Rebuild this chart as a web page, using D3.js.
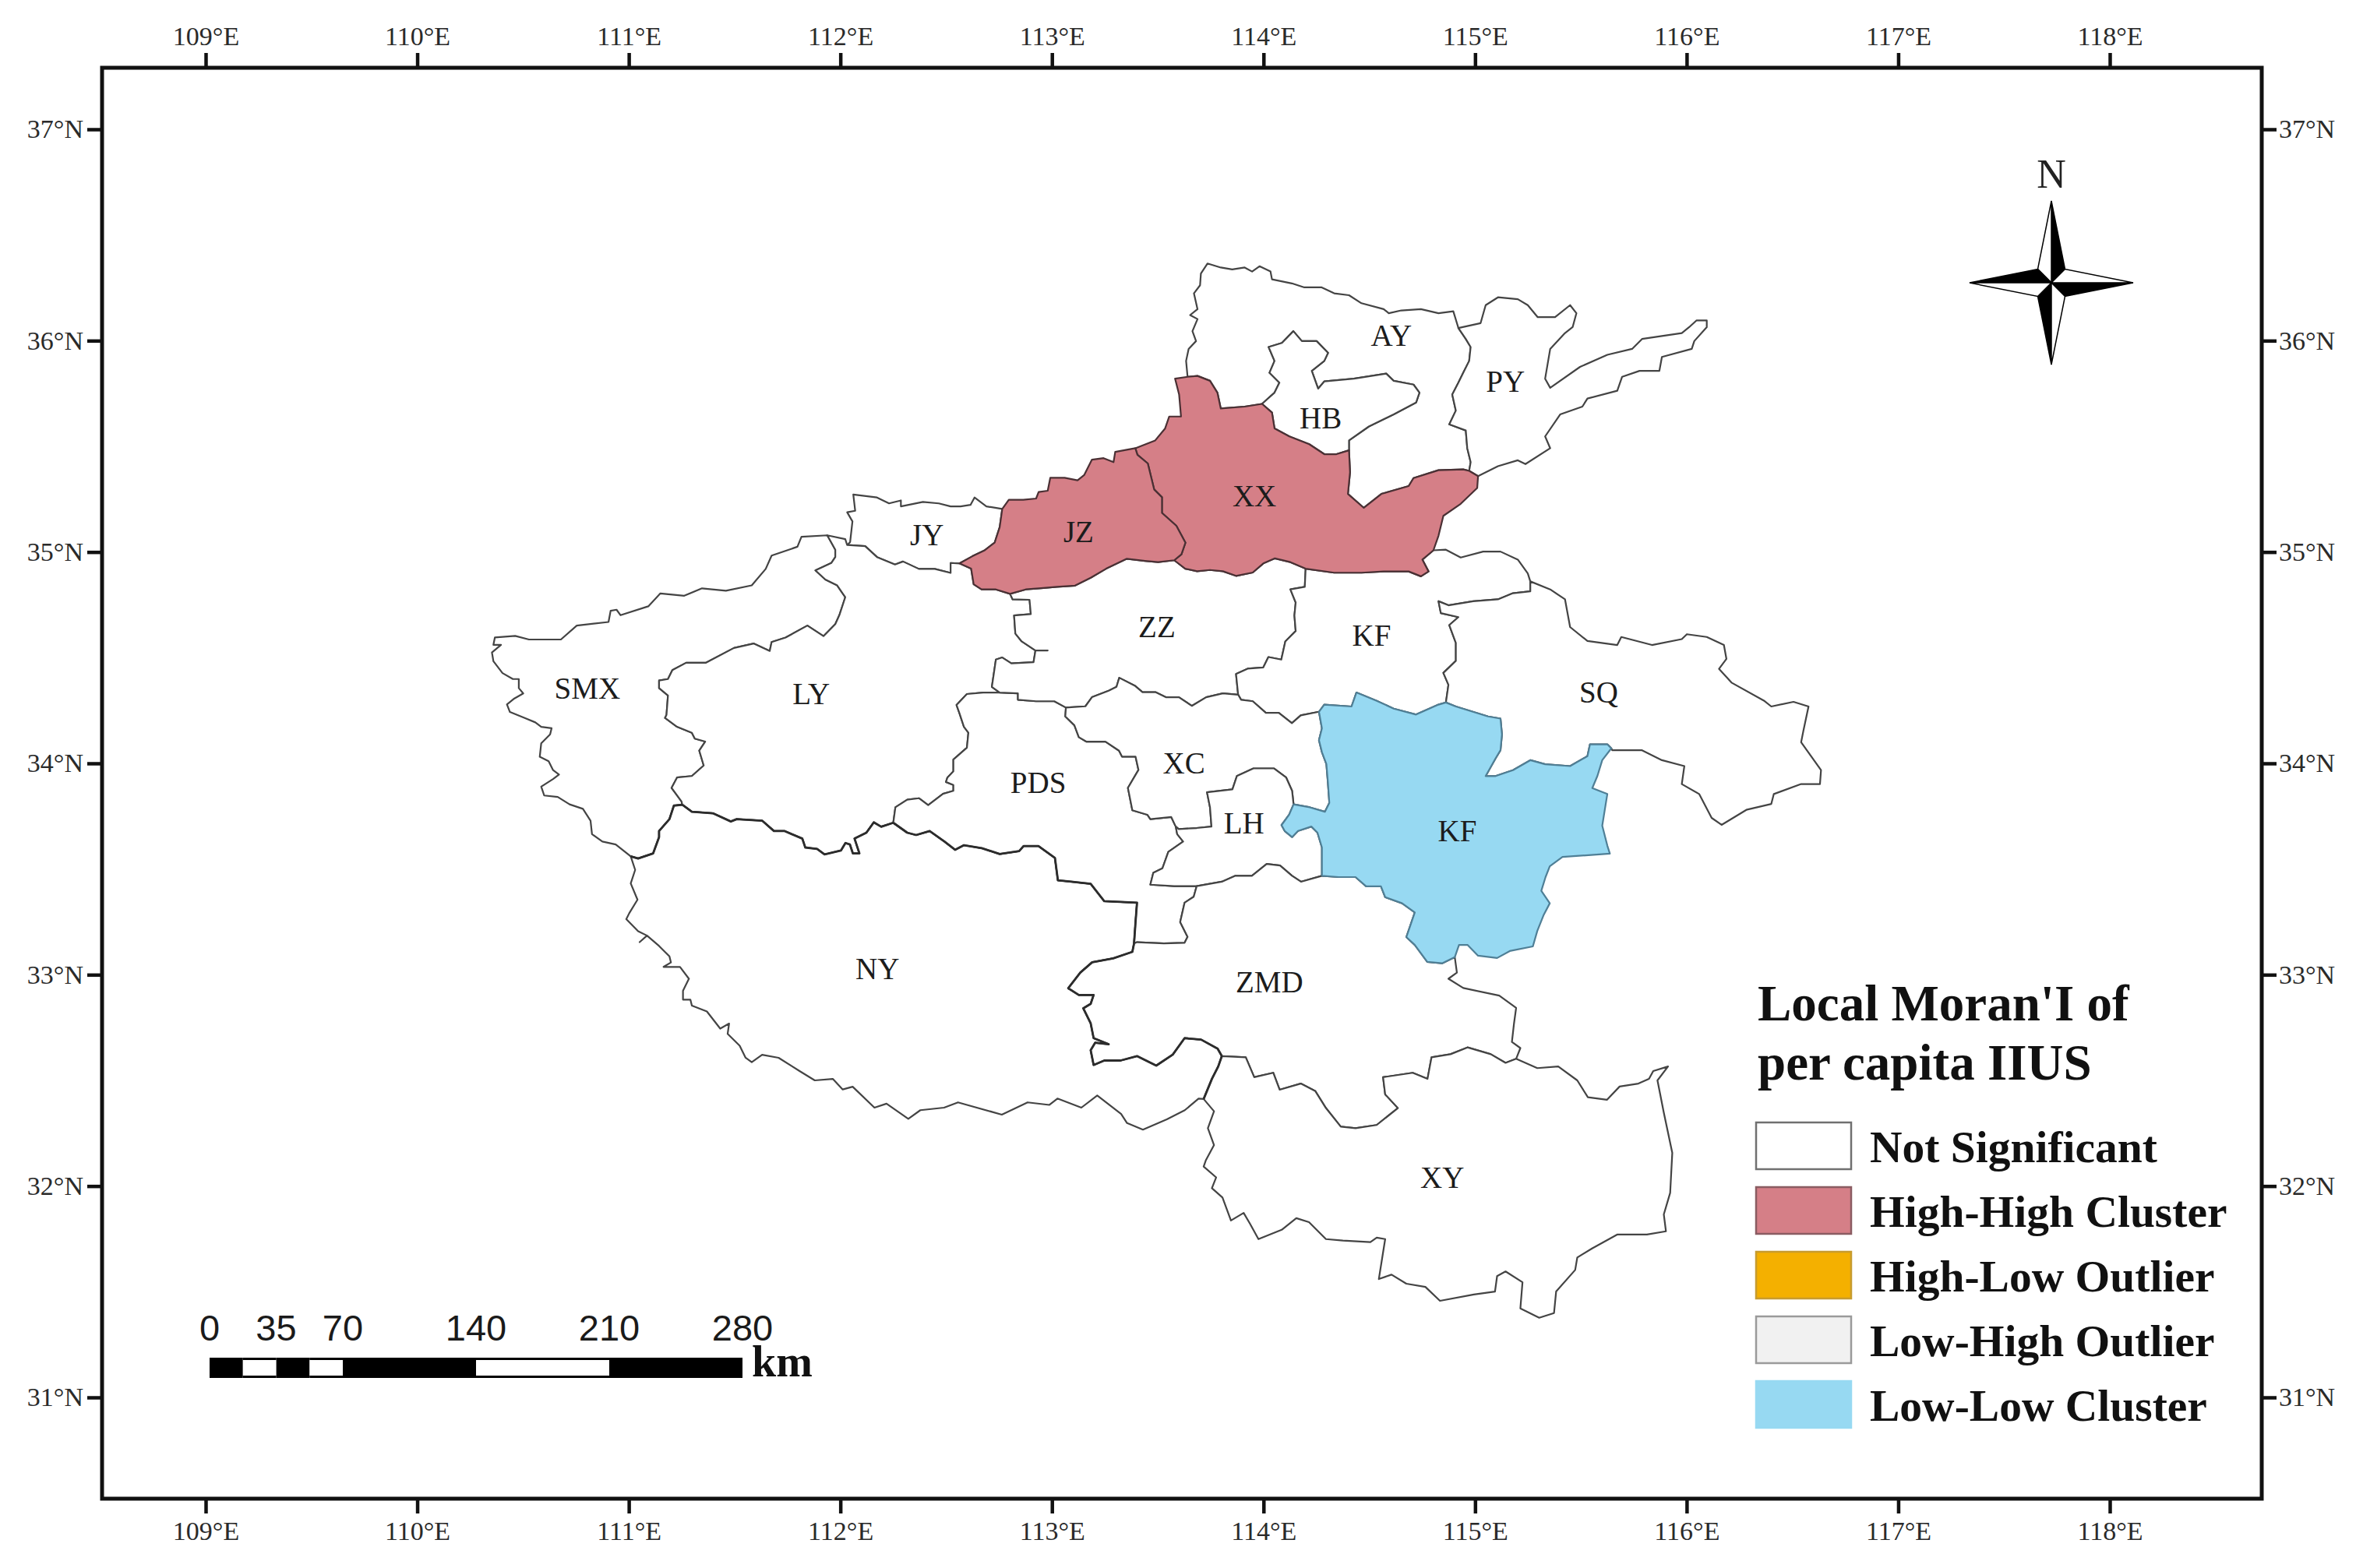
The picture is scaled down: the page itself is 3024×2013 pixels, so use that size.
<!DOCTYPE html>
<html>
<head>
<meta charset="utf-8">
<script src="https://cdn.jsdelivr.net/npm/d3@7"></script>
<style>
  body { margin: 0; background: #fff; }
  text { font-family: "Liberation Serif", serif; }
</style>
</head>
<body>
<div id="chart"></div>
<script>
'use strict';

// boundary arcs, [lon, lat], shared between neighbouring regions
var ayNorth = [[113.641,35.829],[113.634,35.904],[113.646,35.961],[113.681,35.998],[113.664,36.045],[113.688,36.102],[113.653,36.121],[113.688,36.149],[113.671,36.224],[113.700,36.262],[113.704,36.318],[113.735,36.365],[113.798,36.346],[113.852,36.337],[113.911,36.346],[113.946,36.327],[113.981,36.352],[114.033,36.327],[114.040,36.290],[114.134,36.271],[114.193,36.252],[114.275,36.252],[114.334,36.224],[114.404,36.215],[114.463,36.177],[114.568,36.149],[114.592,36.130],[114.651,36.143],[114.744,36.149],[114.827,36.130],[114.897,36.139],[114.921,36.060]];
var ayPy = [[114.921,36.060],[114.956,36.008],[114.979,35.970],[114.972,35.904],[114.944,35.848],[114.921,35.801],[114.892,35.745],[114.909,35.669],[114.878,35.604],[114.956,35.575],[114.963,35.491],[114.979,35.425],[114.972,35.384]];
var ayXxSouth = [[114.404,35.481],[114.409,35.378],[114.399,35.275],[114.474,35.209],[114.557,35.275],[114.686,35.312],[114.709,35.350],[114.827,35.387],[114.944,35.391],[114.972,35.384]];
var hbNorth = [[113.993,35.701],[114.052,35.754],[114.075,35.801],[114.028,35.848],[114.052,35.904],[114.024,35.970],[114.087,35.989],[114.141,36.045],[114.181,35.998],[114.251,35.998],[114.305,35.942],[114.287,35.904],[114.228,35.857],[114.258,35.773],[114.287,35.807],[114.427,35.820],[114.580,35.844],[114.615,35.810],[114.709,35.792],[114.737,35.754],[114.721,35.707],[114.615,35.651],[114.498,35.594],[114.404,35.528],[114.404,35.481]];
var hbXx = [[113.993,35.701],[114.040,35.660],[114.052,35.585],[114.122,35.547],[114.216,35.510],[114.287,35.463],[114.345,35.463],[114.404,35.481]];
var ayXxWest = [[113.641,35.829],[113.688,35.833],[113.747,35.810],[113.782,35.754],[113.798,35.679],[113.911,35.688],[113.993,35.701]];
var xxNorthWest = [[113.641,35.829],[113.582,35.820],[113.601,35.745],[113.610,35.641],[113.554,35.641],[113.535,35.585],[113.488,35.528],[113.394,35.491]];
var pyXx = [[114.972,35.384],[115.014,35.359]];
var xxEast = [[115.014,35.359],[115.010,35.303],[114.932,35.228],[114.850,35.171],[114.827,35.077],[114.803,35.008]];
var xxKf = [[114.803,35.008],[114.751,34.964],[114.780,34.908],[114.744,34.885],[114.686,34.908],[114.568,34.908],[114.463,34.902],[114.334,34.902],[114.199,34.921]];
var xxZz = [[114.199,34.921],[114.127,34.952],[114.054,34.970],[113.999,34.946],[113.949,34.903],[113.870,34.887],[113.808,34.909],[113.747,34.915],[113.686,34.909],[113.630,34.921],[113.578,34.961]];
var jzXx = [[113.394,35.491],[113.404,35.460],[113.453,35.419],[113.483,35.296],[113.520,35.259],[113.520,35.185],[113.588,35.124],[113.631,35.044],[113.612,34.989],[113.578,34.961]];
var jzNorth = [[113.394,35.491],[113.299,35.474],[113.291,35.425],[113.244,35.444],[113.189,35.437],[113.152,35.364],[113.121,35.339],[113.060,35.351],[112.992,35.351],[112.980,35.290],[112.937,35.284],[112.925,35.253],[112.864,35.247],[112.796,35.247],[112.765,35.204]];
var jzJy = [[112.765,35.204],[112.753,35.118],[112.729,35.044],[112.680,35.007],[112.624,34.980],[112.563,34.946]];
var jzSouth = [[112.563,34.946],[112.618,34.921],[112.630,34.847],[112.667,34.823],[112.735,34.823],[112.802,34.802]];
var jzZz = [[112.802,34.802],[112.876,34.823],[112.949,34.829],[113.023,34.835],[113.109,34.841],[113.183,34.878],[113.256,34.921],[113.354,34.968],[113.440,34.958],[113.502,34.952],[113.578,34.961]];
var jyNorth = [[112.765,35.204],[112.690,35.216],[112.634,35.258],[112.615,35.223],[112.568,35.216],[112.521,35.216],[112.465,35.230],[112.390,35.237],[112.286,35.216],[112.286,35.244],[112.230,35.230],[112.173,35.258],[112.061,35.272],[112.070,35.195],[112.032,35.188],[112.057,35.145],[112.046,35.047],[112.032,35.033]];
var jyLy = [[112.032,35.033],[112.117,35.028],[112.173,34.976],[112.258,34.941],[112.296,34.955],[112.371,34.920],[112.446,34.920],[112.521,34.901],[112.521,34.948],[112.563,34.946]];
var lyTip = [[112.032,35.033],[112.023,35.061],[111.938,35.079]];
var smxNorth = [[111.938,35.079],[111.816,35.072],[111.797,35.025],[111.675,34.983],[111.647,34.920],[111.581,34.842],[111.459,34.817],[111.346,34.828],[111.262,34.793],[111.149,34.804],[111.092,34.743],[110.961,34.701],[110.942,34.727],[110.914,34.722],[110.904,34.669],[110.754,34.652],[110.679,34.586],[110.528,34.586],[110.463,34.603],[110.367,34.596],[110.360,34.561],[110.396,34.561],[110.353,34.525],[110.360,34.483],[110.403,34.427],[110.452,34.399],[110.480,34.399],[110.480,34.356],[110.501,34.331],[110.459,34.307],[110.424,34.279],[110.438,34.243],[110.508,34.215],[110.558,34.194],[110.586,34.173],[110.635,34.166],[110.628,34.137],[110.586,34.095],[110.579,34.031],[110.621,34.010],[110.642,33.968],[110.670,33.947],[110.642,33.926],[110.586,33.890],[110.600,33.848],[110.664,33.841],[110.720,33.806],[110.783,33.785],[110.819,33.729],[110.826,33.665],[110.875,33.630],[110.938,33.616],[111.009,33.560]];
var smxLy = [[111.938,35.079],[111.952,35.054],[111.976,35.011],[111.976,34.976],[111.957,34.948],[111.882,34.913],[111.929,34.870],[111.985,34.842],[112.023,34.786],[111.995,34.701],[111.976,34.659],[111.920,34.602],[111.844,34.652],[111.741,34.595],[111.675,34.574],[111.666,34.532],[111.591,34.567],[111.497,34.546],[111.365,34.476],[111.271,34.476],[111.206,34.441],[111.185,34.399],[111.143,34.392],[111.143,34.356],[111.185,34.321],[111.178,34.229],[111.171,34.215],[111.228,34.173],[111.298,34.145],[111.312,34.117],[111.361,34.103],[111.333,34.060],[111.354,33.990],[111.298,33.940],[111.228,33.933],[111.202,33.884],[111.249,33.820],[111.253,33.804]];
var smxNy = [[111.253,33.804],[111.213,33.800],[111.192,33.736],[111.143,33.680],[111.143,33.651],[111.115,33.574],[111.044,33.550],[111.009,33.560]];
var lyNy = [[111.253,33.804],[111.298,33.771],[111.397,33.764],[111.482,33.725],[111.510,33.736],[111.630,33.729],[111.686,33.680],[111.735,33.680],[111.820,33.644],[111.834,33.602],[111.890,33.595],[111.925,33.569],[112.003,33.588],[112.024,33.623],[112.045,33.616],[112.059,33.574],[112.090,33.574],[112.067,33.644],[112.123,33.672],[112.158,33.721],[112.193,33.700],[112.250,33.719]];
var lyPds = [[112.250,33.719],[112.260,33.792],[112.316,33.828],[112.372,33.835],[112.415,33.802],[112.485,33.856],[112.534,33.870],[112.534,33.898],[112.499,33.912],[112.506,33.933],[112.534,33.962],[112.534,34.018],[112.598,34.074],[112.605,34.145],[112.584,34.173],[112.563,34.236],[112.549,34.276],[112.598,34.328],[112.675,34.335],[112.753,34.335]];
var lyZz = [[112.753,34.335],[112.716,34.362],[112.735,34.491],[112.765,34.501],[112.808,34.473],[112.913,34.479],[112.922,34.534],[112.980,34.534],[112.922,34.534],[112.857,34.577],[112.827,34.614],[112.821,34.700],[112.900,34.706],[112.894,34.774],[112.814,34.776],[112.802,34.802]];
var pdsZz = [[112.753,34.335],[112.839,34.331],[112.839,34.301],[112.925,34.294],[113.011,34.294],[113.066,34.264]];
var xcZz = [[113.066,34.264],[113.158,34.270],[113.189,34.313],[113.268,34.344],[113.305,34.362],[113.318,34.405],[113.391,34.368],[113.428,34.337],[113.489,34.337],[113.538,34.313],[113.600,34.313],[113.661,34.272],[113.729,34.313],[113.808,34.331],[113.880,34.325]];
var zzKf = [[113.880,34.325],[113.870,34.423],[113.925,34.448],[113.999,34.454],[114.023,34.503],[114.084,34.491],[114.103,34.577],[114.152,34.626],[114.146,34.700],[114.152,34.761],[114.127,34.823],[114.195,34.835],[114.199,34.921]];
var kfNorth = [[114.803,35.008],[114.862,35.011],[114.932,34.974],[115.038,35.002],[115.120,35.002],[115.202,34.964],[115.249,34.899],[115.261,34.861]];
var kfSq = [[115.261,34.861],[115.261,34.814],[115.179,34.805],[115.108,34.776],[114.991,34.767],[114.874,34.748],[114.827,34.767],[114.838,34.711],[114.921,34.692],[114.878,34.654],[114.909,34.570],[114.909,34.485],[114.850,34.428],[114.874,34.372],[114.862,34.288]];
var sqEast = [[115.261,34.861],[115.355,34.823],[115.425,34.776],[115.449,34.645],[115.531,34.579],[115.672,34.560],[115.691,34.598],[115.836,34.560],[115.977,34.588],[116.001,34.611],[116.095,34.598],[116.176,34.560],[116.188,34.494],[116.153,34.447],[116.212,34.382],[116.365,34.297],[116.400,34.269],[116.505,34.291],[116.576,34.269],[116.552,34.156],[116.541,34.100],[116.635,33.968],[116.630,33.902],[116.541,33.902],[116.412,33.855],[116.400,33.808],[116.282,33.780],[116.165,33.709],[116.118,33.742],[116.059,33.855],[115.977,33.902],[115.989,33.987],[115.883,34.015],[115.789,34.062],[115.648,34.062],[115.644,34.071]];
var sqBlue = [[114.862,34.288],[114.909,34.269],[115.061,34.222],[115.120,34.212],[115.127,34.137],[115.120,34.062],[115.097,34.024],[115.050,33.940],[115.097,33.940],[115.179,33.968],[115.261,34.015],[115.331,33.996],[115.449,33.987],[115.531,34.034],[115.543,34.090],[115.625,34.090],[115.644,34.071]];
var blueEast = [[115.644,34.071],[115.601,34.015],[115.578,33.940],[115.554,33.883],[115.625,33.855],[115.613,33.780],[115.601,33.705],[115.625,33.611],[115.637,33.573],[115.413,33.557],[115.353,33.513],[115.333,33.462],[115.313,33.397],[115.353,33.338],[115.323,33.280],[115.294,33.207],[115.273,33.134],[115.164,33.112],[115.104,33.079],[115.014,33.090],[114.964,33.141],[114.924,33.141],[114.904,33.083]];
var blueZmd = [[114.904,33.083],[114.844,33.054],[114.774,33.061],[114.715,33.141],[114.675,33.178],[114.715,33.295],[114.655,33.338],[114.575,33.367],[114.555,33.418],[114.485,33.418],[114.435,33.462],[114.355,33.462],[114.276,33.468]];
var blueLh = [[114.276,33.468],[114.276,33.602],[114.255,33.672],[114.226,33.701],[114.163,33.680],[114.135,33.651],[114.100,33.680],[114.085,33.708],[114.121,33.757],[114.142,33.806]];
var blueXc = [[114.142,33.806],[114.219,33.792],[114.290,33.771],[114.311,33.813],[114.304,33.912],[114.297,33.997],[114.276,34.053],[114.262,34.110],[114.276,34.166],[114.262,34.244]];
var blueKf = [[114.262,34.244],[114.287,34.278],[114.416,34.269],[114.439,34.335],[114.533,34.297],[114.615,34.259],[114.721,34.231],[114.827,34.278],[114.862,34.288]];
var kfXc = [[113.880,34.325],[113.894,34.301],[113.949,34.294],[114.011,34.239],[114.072,34.239],[114.134,34.190],[114.176,34.227],[114.262,34.244]];
var pdsXc = [[113.066,34.264],[113.063,34.222],[113.106,34.180],[113.127,34.124],[113.162,34.103],[113.253,34.103],[113.317,34.060],[113.331,34.032],[113.395,34.032],[113.409,33.969],[113.359,33.884],[113.380,33.778],[113.451,33.757],[113.465,33.736],[113.564,33.746],[113.585,33.701]];
var xcLh = [[113.585,33.701],[113.599,33.689],[113.684,33.694],[113.754,33.701],[113.747,33.792],[113.733,33.863],[113.853,33.877],[113.874,33.940],[113.952,33.976],[114.050,33.976],[114.107,33.933],[114.135,33.870],[114.142,33.806]];
var pdsLh = [[113.585,33.701],[113.592,33.665],[113.620,33.630],[113.550,33.581],[113.522,33.503],[113.479,33.482],[113.465,33.426],[113.578,33.419],[113.684,33.419]];
var lhZmd = [[113.684,33.419],[113.803,33.440],[113.867,33.468],[113.945,33.468],[114.015,33.524],[114.078,33.517],[114.135,33.468],[114.177,33.440],[114.276,33.468]];
var pdsZmd = [[113.684,33.419],[113.670,33.369],[113.627,33.341],[113.606,33.249],[113.641,33.179],[113.627,33.151],[113.529,33.148],[113.402,33.154],[113.388,33.148]];
var pdsNy = [[112.250,33.719],[112.316,33.672],[112.358,33.661],[112.422,33.680],[112.492,33.630],[112.542,33.591],[112.584,33.613],[112.668,33.599],[112.753,33.571],[112.845,33.585],[112.866,33.609],[112.936,33.609],[113.014,33.553],[113.028,33.447],[113.091,33.440],[113.183,33.430],[113.247,33.348],[113.402,33.341],[113.395,33.249],[113.388,33.148]];
var nyZmd = [[113.388,33.148],[113.380,33.108],[113.289,33.077],[113.190,33.059],[113.134,33.010],[113.077,32.936],[113.127,32.904],[113.197,32.904],[113.183,32.862],[113.148,32.841],[113.183,32.770],[113.197,32.700],[113.268,32.671],[113.204,32.678],[113.183,32.643],[113.197,32.573],[113.247,32.594],[113.324,32.594],[113.402,32.615],[113.493,32.570],[113.571,32.622],[113.627,32.700],[113.705,32.693],[113.783,32.650],[113.803,32.615]];
var nySouth = [[111.009,33.560],[111.030,33.496],[111.009,33.432],[111.041,33.355],[111.002,33.291],[110.988,33.263],[111.044,33.206],[111.086,33.185],[111.051,33.154],[111.086,33.185],[111.143,33.136],[111.192,33.087],[111.199,33.058],[111.164,33.037],[111.242,33.037],[111.284,32.981],[111.256,32.924],[111.256,32.882],[111.291,32.882],[111.298,32.854],[111.369,32.826],[111.432,32.745],[111.474,32.769],[111.467,32.720],[111.524,32.664],[111.552,32.607],[111.581,32.586],[111.630,32.621],[111.708,32.607],[111.807,32.544],[111.879,32.500],[111.964,32.507],[112.011,32.457],[112.058,32.470],[112.161,32.371],[112.218,32.390],[112.321,32.318],[112.378,32.359],[112.490,32.371],[112.556,32.396],[112.763,32.338],[112.885,32.396],[112.988,32.384],[113.026,32.414],[113.139,32.371],[113.214,32.429],[113.327,32.341],[113.355,32.298],[113.430,32.267],[113.543,32.316],[113.628,32.359],[113.693,32.414],[113.717,32.412]];
var nyXy = [[113.717,32.412],[113.756,32.507],[113.786,32.566],[113.803,32.615]];
var zmdXy = [[113.803,32.615],[113.916,32.609],[113.956,32.515],[114.046,32.536],[114.076,32.456],[114.176,32.485],[114.245,32.449],[114.295,32.369],[114.365,32.281],[114.435,32.274],[114.535,32.289],[114.635,32.369],[114.575,32.434],[114.565,32.515],[114.705,32.536],[114.775,32.507],[114.794,32.609],[114.884,32.624],[114.964,32.656],[115.074,32.624],[115.144,32.583],[115.194,32.602]];
var zmdSq = [[114.904,33.083],[114.914,33.010],[114.874,32.981],[114.944,32.937],[115.114,32.901],[115.194,32.843],[115.184,32.770],[115.174,32.682],[115.214,32.653],[115.194,32.602]];
var xyOuter = [[115.194,32.602],[115.294,32.558],[115.393,32.566],[115.483,32.500],[115.533,32.420],[115.623,32.408],[115.683,32.471],[115.772,32.485],[115.822,32.507],[115.842,32.544],[115.912,32.566],[115.862,32.500],[115.892,32.347],[115.932,32.157],[115.922,31.968],[115.892,31.866],[115.902,31.786],[115.812,31.771],[115.673,31.771],[115.553,31.705],[115.483,31.662],[115.473,31.603],[115.383,31.501],[115.373,31.399],[115.303,31.377],[115.214,31.421],[115.224,31.545],[115.144,31.596],[115.104,31.574],[115.094,31.501],[114.994,31.487],[114.834,31.457],[114.765,31.523],[114.675,31.538],[114.605,31.581],[114.545,31.560],[114.575,31.749],[114.535,31.756],[114.505,31.735],[114.375,31.742],[114.295,31.749],[114.215,31.829],[114.155,31.848],[114.086,31.793],[113.976,31.749],[113.936,31.822],[113.906,31.873],[113.846,31.837],[113.806,31.946],[113.756,31.990],[113.776,32.041],[113.717,32.092],[113.727,32.121],[113.766,32.194],[113.737,32.274],[113.766,32.354],[113.717,32.412]];
var pyEast = [[115.014,35.359],[115.108,35.406],[115.202,35.434],[115.238,35.416],[115.355,35.491],[115.331,35.547],[115.402,35.651],[115.507,35.688],[115.531,35.726],[115.672,35.763],[115.695,35.829],[115.777,35.857],[115.871,35.857],[115.883,35.923],[116.024,35.961],[116.036,35.998],[116.095,36.064],[116.095,36.096],[116.047,36.096],[116.012,36.064],[115.977,36.036],[115.789,36.008],[115.742,35.961],[115.625,35.933],[115.496,35.876],[115.355,35.777],[115.331,35.820],[115.355,35.961],[115.425,36.036],[115.461,36.064],[115.479,36.130],[115.449,36.168],[115.378,36.111],[115.296,36.111],[115.249,36.168],[115.202,36.196],[115.108,36.205],[115.050,36.168],[115.026,36.083],[114.921,36.060]];

function rev(a) { return a.slice().reverse(); }

// regions, one entry per city, same order in every list
var regionLabels = ['AY','PY','HB','JY','SMX','LY','NY','PDS','ZZ','KF','SQ','XC','LH','ZMD','XY','XX','JZ','KF'];
var regionClusters = [0,0,0,0,0,0,0,0,0,0,0,0,0,0,0,1,1,4];
var regionRings = [
    ayNorth.concat(ayPy, rev(ayXxSouth), rev(hbNorth), rev(ayXxWest)),
    ayPy.concat(pyXx, pyEast),
    hbNorth.concat(rev(hbXx)),
    jzJy.concat(rev(jyLy), rev(jyNorth)),
    smxNorth.concat(rev(smxNy), rev(smxLy)),
    lyTip.concat(smxLy, lyNy, lyPds, lyZz, rev(jzSouth), rev(jyLy)),
    lyNy.concat(pdsNy, nyZmd, rev(nyXy), rev(nySouth), rev(smxNy)),
    lyPds.concat(pdsZz, pdsXc, pdsLh, pdsZmd, rev(pdsNy)),
    jzZz.concat(rev(xxZz), rev(zzKf), rev(xcZz), rev(pdsZz), lyZz),
    zzKf.concat(rev(xxKf), kfNorth, kfSq, rev(blueKf), rev(kfXc)),
    sqEast.concat(rev(sqBlue), rev(kfSq)),
    xcZz.concat(kfXc, rev(blueXc), rev(xcLh), rev(pdsXc)),
    xcLh.concat(rev(blueLh), rev(lhZmd), rev(pdsLh)),
    lhZmd.concat(rev(blueZmd), zmdSq, rev(zmdXy), rev(nyZmd), rev(pdsZmd)),
    zmdXy.concat(xyOuter, nyXy),
    rev(xxNorthWest).concat(ayXxWest, hbXx, ayXxSouth, pyXx, xxEast, xxKf, xxZz, rev(jzXx)),
    jzXx.concat(rev(jzZz), rev(jzSouth), rev(jzJy), rev(jzNorth)),
    sqBlue.concat(blueEast, blueZmd, blueLh, blueXc, blueKf)
];
var labelLon = [114.604,115.143,114.270,112.409,110.804,111.862,112.175,112.935,113.496,114.511,115.584,113.624,113.908,114.028,114.845,113.957,113.126,114.916];
var labelLat = [36.027,35.807,35.636,35.082,34.358,34.330,33.030,33.911,34.649,34.607,34.337,34.003,33.719,32.966,32.043,35.267,35.097,33.683];

// arcs that are printed heavier in the figure
var heavyArcs = [smxNy, lyNy, pdsNy, nyZmd, nyXy];

var lonTicks = [109,110,111,112,113,114,115,116,117,118];
var latTicks = [31,32,33,34,35,36,37];

var legendLabels = ['Not Significant','High-High Cluster','High-Low Outlier','Low-High Outlier','Low-Low Cluster'];
var legendColors = ['#ffffff','#d57f87','#f4b000','#f1f1f1','#97d9f2'];
var legendStrokes = ['#707070','#8a5c62','#c79b2e','#9a9a9a','#97d9f2'];
var regionStrokes = ['#444444','#4a3034','','','#4f7f96'];

var scaleKm = [0,17.5,35,52.5,70,140,210,280];
var scaleTicks = [0,35,70,140,210,280];

var width = 3024, height = 2013;
var frame = {left: 131, top: 87, right: 2903, bottom: 1924};

var svg = d3.select('#chart').append('svg')
    .attr('width', width)
    .attr('height', height)
    .style('display', 'block');

var xScale = d3.scaleLinear().domain([109,118]).range([264,2708]);
var yScale = d3.scaleLinear().domain([31,37]).range([1794,166]);

var line = d3.line()
    .x(function(d){ return xScale(d[0]); })
    .y(function(d){ return yScale(d[1]); });

// regions
svg.append('g').selectAll('path')
    .data(regionRings)
    .enter()
    .append('path')
    .attr('d', function(d){ return line(d) + 'Z'; })
    .attr('fill', function(d, i){ return legendColors[regionClusters[i]]; })
    .attr('stroke', function(d, i){ return regionStrokes[regionClusters[i]]; })
    .attr('stroke-width', 2.2)
    .attr('stroke-linejoin', 'round');

svg.append('g').selectAll('path')
    .data(heavyArcs)
    .enter()
    .append('path')
    .attr('d', line)
    .attr('fill', 'none')
    .attr('stroke', '#2c2c2c')
    .attr('stroke-width', 2.8)
    .attr('stroke-linejoin', 'round');

svg.append('g').selectAll('text')
    .data(regionLabels)
    .enter()
    .append('text')
    .attr('x', function(d, i){ return xScale(labelLon[i]); })
    .attr('y', function(d, i){ return yScale(labelLat[i]); })
    .attr('dy', '.35em')
    .attr('text-anchor', 'middle')
    .attr('font-size', 39)
    .attr('fill', '#1c1c1c')
    .text(function(d){ return d; });

// frame and graticule ticks
svg.append('rect')
    .attr('x', frame.left)
    .attr('y', frame.top)
    .attr('width', frame.right - frame.left)
    .attr('height', frame.bottom - frame.top)
    .attr('fill', 'none')
    .attr('stroke', '#111')
    .attr('stroke-width', 5);

function lonFormat(d) { return d + '°E'; }
function latFormat(d) { return d + '°N'; }

function styleAxis(g) {
    g.select('.domain').remove();
    g.selectAll('.tick line').attr('stroke', '#111').attr('stroke-width', 4.5);
    g.selectAll('.tick text')
        .attr('fill', '#2a2a2a')
        .style('font-family', '"Liberation Serif", serif')
        .style('font-size', '34px');
}

svg.append('g')
    .attr('transform', 'translate(0,' + frame.top + ')')
    .call(d3.axisTop(xScale).tickValues(lonTicks).tickFormat(lonFormat).tickSize(19).tickPadding(10))
    .call(styleAxis);
svg.append('g')
    .attr('transform', 'translate(0,' + frame.bottom + ')')
    .call(d3.axisBottom(xScale).tickValues(lonTicks).tickFormat(lonFormat).tickSize(19).tickPadding(10))
    .call(styleAxis);
svg.append('g')
    .attr('transform', 'translate(' + frame.left + ',0)')
    .call(d3.axisLeft(yScale).tickValues(latTicks).tickFormat(latFormat).tickSize(19).tickPadding(5))
    .call(styleAxis);
svg.append('g')
    .attr('transform', 'translate(' + frame.right + ',0)')
    .call(d3.axisRight(yScale).tickValues(latTicks).tickFormat(latFormat).tickSize(19).tickPadding(3))
    .call(styleAxis);

// north arrow
var compass = svg.append('g').attr('transform', 'translate(2633,363)');
var arm = 105, inner = 17.5;
var armDirs = [[0,-1],[1,0],[0,1],[-1,0]];
armDirs.forEach(function(u){
    var n = [-u[1], u[0]];               // clockwise side of the arm
    var tip = [u[0]*arm, u[1]*arm];
    var cw = [(u[0]+n[0])*inner, (u[1]+n[1])*inner];
    var ccw = [(u[0]-n[0])*inner, (u[1]-n[1])*inner];
    compass.append('path')
        .attr('d', 'M0,0L' + tip + 'L' + cw + 'Z')
        .attr('fill', '#000').attr('stroke', '#000').attr('stroke-width', 1.5);
    compass.append('path')
        .attr('d', 'M0,0L' + tip + 'L' + ccw + 'Z')
        .attr('fill', '#fff').attr('stroke', '#000').attr('stroke-width', 1.5);
});
svg.append('text')
    .attr('x', 2633)
    .attr('y', 241)
    .attr('text-anchor', 'middle')
    .attr('font-size', 52)
    .attr('fill', '#222')
    .text('N');

// scale bar
var kmScale = d3.scaleLinear().domain([0,280]).range([269,953]);
var barY = 1743, barH = 26;
svg.append('g').selectAll('rect')
    .data(d3.pairs(scaleKm))
    .enter()
    .append('rect')
    .attr('x', function(d){ return kmScale(d[0]); })
    .attr('y', barY)
    .attr('width', function(d){ return kmScale(d[1]) - kmScale(d[0]); })
    .attr('height', barH)
    .attr('fill', '#000');
svg.append('g').selectAll('rect')
    .data(d3.pairs(scaleKm).filter(function(d, i){ return i % 2 == 1; }))
    .enter()
    .append('rect')
    .attr('x', function(d){ return kmScale(d[0]); })
    .attr('y', barY + 3)
    .attr('width', function(d){ return kmScale(d[1]) - kmScale(d[0]); })
    .attr('height', barH - 6)
    .attr('fill', '#fff');
svg.append('g').selectAll('text')
    .data(scaleTicks)
    .enter()
    .append('text')
    .attr('x', function(d){ return kmScale(d); })
    .attr('y', 1721)
    .attr('text-anchor', 'middle')
    .style('font-family', '"Liberation Sans", sans-serif')
    .attr('font-size', 47)
    .attr('fill', '#1a1a1a')
    .text(function(d){ return d; });
svg.append('text')
    .attr('x', 965)
    .attr('y', 1767)
    .attr('font-size', 56)
    .attr('font-weight', 'bold')
    .attr('fill', '#111')
    .text('km');

// legend
var legend = svg.append('g');
legend.selectAll('text.title')
    .data(["Local Moran'I of", 'per capita IIUS'])
    .enter()
    .append('text')
    .attr('class', 'title')
    .attr('x', 2256)
    .attr('y', function(d, i){ return 1310 + i*76; })
    .attr('font-size', 65)
    .attr('font-weight', 'bold')
    .attr('fill', '#111')
    .text(function(d){ return d; });
legend.selectAll('rect')
    .data(legendLabels)
    .enter()
    .append('rect')
    .attr('x', 2254)
    .attr('y', function(d, i){ return 1441 + i*83; })
    .attr('width', 122)
    .attr('height', 60)
    .attr('fill', function(d, i){ return legendColors[i]; })
    .attr('stroke', function(d, i){ return legendStrokes[i]; })
    .attr('stroke-width', 2.5);
legend.selectAll('text.item')
    .data(legendLabels)
    .enter()
    .append('text')
    .attr('class', 'item')
    .attr('x', 2400)
    .attr('y', function(d, i){ return 1492 + i*83; })
    .attr('font-size', 57.5)
    .attr('font-weight', 'bold')
    .attr('fill', '#111')
    .text(function(d){ return d; });
</script>
</body>
</html>
